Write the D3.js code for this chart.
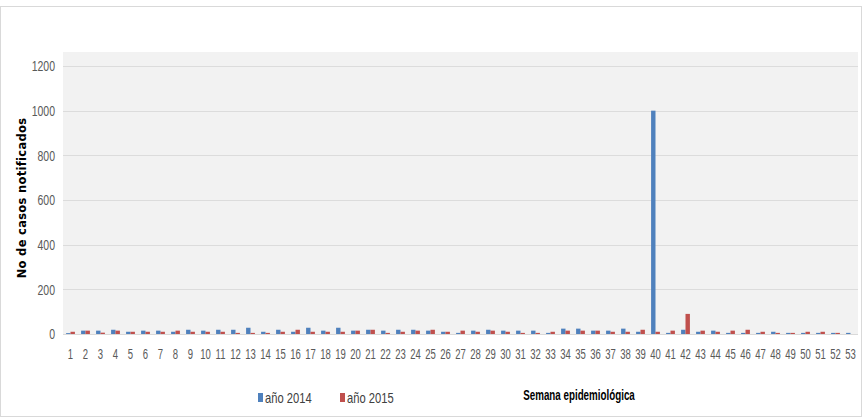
<!DOCTYPE html>
<html><head><meta charset="utf-8">
<script src="https://cdn.jsdelivr.net/npm/d3@7"></script>
<style>body{margin:0;background:#fff}svg{display:block}</style>
</head><body>
<svg id="c" width="867" height="420"></svg>
<script>
const weeks = d3.range(1, 54).map(String);
const values2014 = [4,15,15,19,10,15,15,10,19,15,19,19,28,10,19,10,28,15,28,15,19,15,19,19,15,10,5,15,19,15,15,15,5,24,24,15,15,24,10,1000,5,19,10,15,5,5,5,10,5,5,5,5,5];
const values2015 = [10,15,6,15,10,10,10,15,10,10,10,5,5,5,10,19,10,10,10,15,19,5,10,15,19,10,15,10,15,10,5,5,10,15,15,15,10,10,19,10,15,90,15,10,15,19,10,5,5,10,10,5,0];
const yTicks = [0,200,400,600,800,1000,1200];
const seriesNames = ["año 2014","año 2015"];
const colors = ["#4f81bd","#c0504d"];

const svg = d3.select("#c");
const font = "'Liberation Sans',Arial,sans-serif";
const L = 63, R = 858, T = 66, B = 334;

svg.append("rect").attr("x",0.5).attr("y",6.5).attr("width",861).attr("height",410)
  .attr("fill","#fff").attr("stroke","#d9d9d9");
svg.append("rect").attr("x",L).attr("y",52).attr("width",R-L).attr("height",B-52).attr("fill","#f2f2f2");

const x = d3.scaleBand().domain(weeks).range([L,R]).paddingInner(0).paddingOuter(0);
const x1 = d3.scaleBand().domain([0,1]).range([0,x.bandwidth()]).paddingInner(0).paddingOuter(0.7);
const y = d3.scaleLinear().domain([0,1200]).range([B,T]);

// gridlines
svg.append("g").selectAll("line").data(yTicks.filter(d=>d>0)).join("line")
  .attr("x1",L).attr("x2",R).attr("y1",d=>Math.round(y(d))+0.5).attr("y2",d=>Math.round(y(d))+0.5)
  .attr("stroke","#dcdcdc").attr("stroke-width",1);

// y axis
const sy = 0.7;
const ya = svg.append("g").attr("transform",`translate(${L},0)`)
  .call(d3.axisLeft(y).tickValues(yTicks).tickFormat(d3.format("d")).tickSize(0).tickPadding(8));
ya.select(".domain").remove();
ya.selectAll("text").attr("font-family",font).attr("font-size",15).attr("fill","#595959")
  .attr("x",-8/sy).attr("transform",`scale(${sy},1)`);

// bars
const data = weeks.map((w,i)=>({w, v:[values2014[i], values2015[i]]}));
const g = svg.append("g");
data.forEach(d=>{
  d.v.forEach((v,k)=>{
    if (v<=0) return;
    g.append("rect").attr("x",x(d.w)+x1(k)).attr("width",x1.bandwidth())
      .attr("y",y(v)).attr("height",B-y(v)).attr("fill",colors[k]);
  });
});

// baseline
svg.append("line").attr("x1",L).attr("x2",R).attr("y1",B+0.5).attr("y2",B+0.5).attr("stroke","#d9d9d9");

// x axis
const sx = 0.68;
const xa = svg.append("g").attr("transform",`translate(0,${B})`)
  .call(d3.axisBottom(x).tickSize(0).tickPadding(15));
xa.select(".domain").remove();
xa.selectAll("text").attr("font-family",font).attr("font-size",14).attr("fill","#595959")
  .attr("transform",`scale(${sx},1)`);

// y title
svg.append("text").attr("transform",`translate(26,${(T+B)/2-2}) rotate(-90)`)
  .attr("text-anchor","middle").attr("font-family","'DejaVu Sans',Verdana,sans-serif")
  .attr("font-weight","bold").attr("font-size",11.5).attr("fill","#000").attr("letter-spacing",0.3)
  .text("No de casos notificados");

// x title
const st = 0.7;
svg.append("text").attr("x",579/st).attr("y",400).attr("text-anchor","middle")
  .attr("transform",`scale(${st},1)`)
  .attr("font-family",font).attr("font-weight","bold").attr("font-size",14).attr("fill","#000")
  .text("Semana epidemiológica");

// legend
const sl = 0.8;
const lg = svg.append("g");
const lx = [258,340];
seriesNames.forEach((n,k)=>{
  lg.append("rect").attr("x",lx[k]).attr("y",393).attr("width",5).attr("height",9).attr("fill",colors[k]);
  lg.append("text").attr("x",(lx[k]+7)/sl).attr("y",403).attr("transform",`scale(${sl},1)`)
    .attr("font-family",font).attr("font-size",14).attr("fill","#404040").text(n);
});
</script>
</body></html>
